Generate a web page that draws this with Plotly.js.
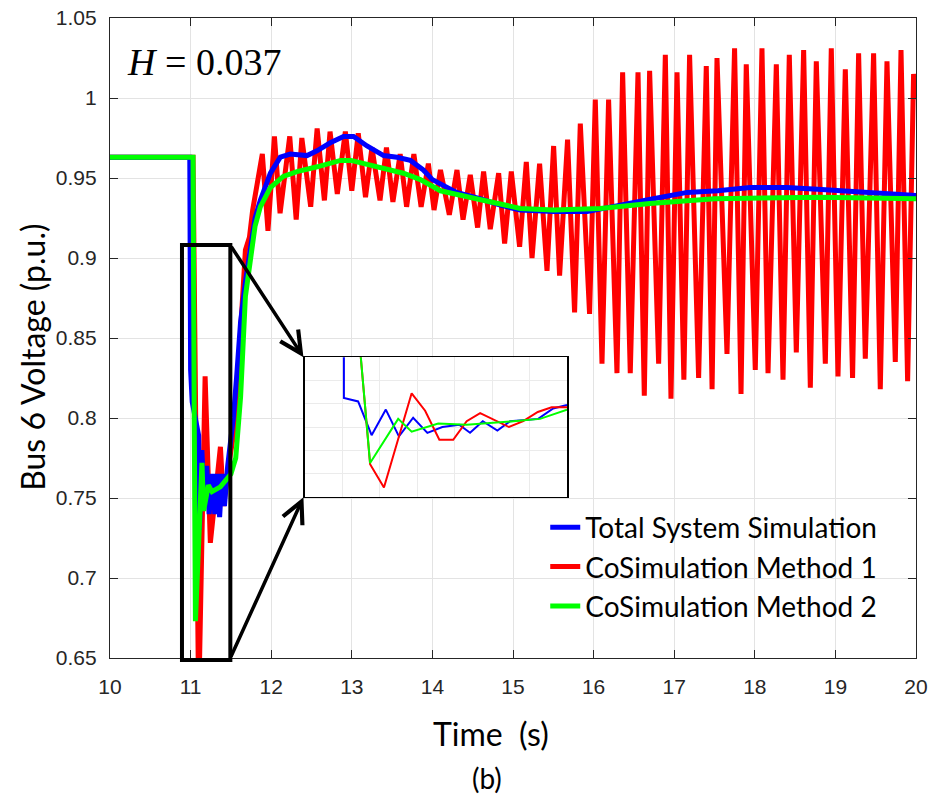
<!DOCTYPE html>
<html>
<head>
<meta charset="utf-8">
<script src="https://cdn.plot.ly/plotly-3.0.1.min.js"></script>
<style>html,body{margin:0;padding:0;background:#fff;}#chart{width:934px;height:800px;}</style>
</head>
<body>
<div id="chart"></div>
<script>
// ---------- data ----------
const seriesNames = ["Total System Simulation", "CoSimulation Method 1", "CoSimulation Method 2"];

const totalTime = [10, 10.99, 11.0, 11.02, 11.1, 11.11, 11.14, 11.17, 11.2, 11.23, 11.27, 11.3, 11.33, 11.36, 11.39, 11.42, 11.46, 11.5, 11.53, 11.57, 11.62, 11.68, 11.74, 11.8, 11.865, 11.99, 12.113, 12.237, 12.444, 12.568, 12.733, 12.898, 13.022, 13.189, 13.395, 13.561, 13.726, 13.887, 14.0, 14.15, 14.3, 14.6, 14.842, 15.09, 15.5, 15.92, 16.2, 16.74, 17.16, 17.54, 17.94, 18.4, 18.78, 19.4, 20];
const totalVolt = [0.963, 0.963, 0.83, 0.81, 0.789, 0.73, 0.78, 0.745, 0.77, 0.74, 0.765, 0.74, 0.765, 0.738, 0.765, 0.745, 0.77, 0.785, 0.8, 0.825, 0.86, 0.885, 0.905, 0.925, 0.936, 0.953, 0.963, 0.965, 0.964, 0.967, 0.972, 0.976, 0.976, 0.97, 0.964, 0.963, 0.961, 0.955, 0.949, 0.945, 0.941, 0.937, 0.933, 0.93, 0.929, 0.929, 0.932, 0.937, 0.941, 0.942, 0.944, 0.944, 0.943, 0.941, 0.939];

const m1Time = [10, 11.03, 11.1, 11.18, 11.245, 11.37, 11.41, 11.47, 11.55, 11.63, 11.68, 11.73, 11.77, 11.89, 11.96, 12.04, 12.11, 12.23, 12.31, 12.38, 12.49, 12.57, 12.66, 12.73, 12.82, 12.92, 13.0, 13.08, 13.17, 13.25, 13.35, 13.43, 13.51, 13.6, 13.68, 13.77, 13.86, 13.95, 14.02, 14.1, 14.21, 14.305, 14.38, 14.47, 14.561, 14.635, 14.718, 14.822, 14.896, 14.979, 15.082, 15.165, 15.236, 15.33, 15.422, 15.504, 15.578, 15.677, 15.764, 15.835, 15.95, 16.021, 16.104, 16.186, 16.29, 16.36, 16.455, 16.551, 16.629, 16.695, 16.807, 16.89, 16.96, 17.035, 17.12, 17.191, 17.303, 17.398, 17.47, 17.531, 17.655, 17.749, 17.829, 17.894, 18.006, 18.089, 18.164, 18.267, 18.35, 18.428, 18.515, 18.606, 18.689, 18.763, 18.875, 18.949, 19.032, 19.123, 19.213, 19.288, 19.371, 19.474, 19.557, 19.64, 19.743, 19.814, 19.896, 19.97, 20.0];
const m1Volt = [0.963, 0.963, 0.62, 0.826, 0.722, 0.782, 0.745, 0.77, 0.795, 0.86, 0.905, 0.913, 0.93, 0.965, 0.917, 0.976, 0.928, 0.976, 0.924, 0.975, 0.932, 0.981, 0.936, 0.979, 0.94, 0.979, 0.942, 0.978, 0.938, 0.969, 0.936, 0.969, 0.935, 0.965, 0.932, 0.965, 0.932, 0.959, 0.93, 0.955, 0.927, 0.955, 0.924, 0.952, 0.919, 0.954, 0.918, 0.953, 0.909, 0.954, 0.907, 0.96, 0.9, 0.959, 0.892, 0.97, 0.889, 0.974, 0.866, 0.984, 0.865, 0.999, 0.834, 0.999, 0.828, 1.016, 0.828, 1.016, 0.814, 1.017, 0.834, 1.027, 0.812, 1.016, 0.824, 1.027, 0.825, 1.02, 0.818, 1.025, 0.84, 1.031, 0.815, 1.021, 0.83, 1.031, 0.828, 1.021, 0.824, 1.027, 0.841, 1.03, 0.819, 1.023, 0.834, 1.031, 0.826, 1.018, 0.825, 1.028, 0.837, 1.028, 0.818, 1.023, 0.835, 1.03, 0.823, 1.015, 0.999];

const m2Time = [10, 11.03, 11.045, 11.06, 11.141, 11.161, 11.22, 11.265, 11.369, 11.468, 11.5, 11.56, 11.62, 11.68, 11.74, 11.8, 11.865, 11.99, 12.15, 12.32, 12.57, 12.86, 12.99, 13.15, 13.39, 13.64, 13.85, 13.97, 14.1, 14.46, 14.84, 15.09, 15.5, 16.08, 16.7, 17.5, 18.8, 20];
const m2Volt = [0.963, 0.963, 0.8, 0.673, 0.772, 0.742, 0.758, 0.754, 0.757, 0.763, 0.765, 0.775, 0.813, 0.876, 0.901, 0.92, 0.932, 0.944, 0.951, 0.954, 0.957, 0.961, 0.961, 0.959, 0.956, 0.953, 0.949, 0.946, 0.942, 0.938, 0.934, 0.931, 0.93, 0.931, 0.934, 0.937, 0.938, 0.937];

// inset (zoomed view of the fault interval)
const insetTotalTime = [11.104, 11.104, 11.142, 11.178, 11.216, 11.251, 11.289, 11.327, 11.367, 11.412, 11.441, 11.475, 11.514, 11.548, 11.623, 11.663, 11.7];
const insetTotalVolt = [0.85, 0.785, 0.782, 0.753, 0.775, 0.752, 0.768, 0.755, 0.76, 0.762, 0.755, 0.765, 0.757, 0.765, 0.767, 0.776, 0.779];
const insetM1Time = [11.141, 11.174, 11.211, 11.248, 11.285, 11.321, 11.359, 11.396, 11.432, 11.468, 11.512, 11.545, 11.583, 11.622, 11.659, 11.7];
const insetM1Volt = [0.85, 0.728, 0.708, 0.749, 0.789, 0.774, 0.749, 0.749, 0.765, 0.772, 0.765, 0.76, 0.765, 0.773, 0.777, 0.777];
const insetM2Time = [11.141, 11.174, 11.249, 11.285, 11.356, 11.432, 11.557, 11.628, 11.7];
const insetM2Volt = [0.85, 0.729, 0.767, 0.756, 0.763, 0.762, 0.765, 0.767, 0.775];

const xTickVals = [10, 11, 12, 13, 14, 15, 16, 17, 18, 19, 20];
const xTickText = ["10", "11", "12", "13", "14", "15", "16", "17", "18", "19", "20"];
const yTickVals = [0.65, 0.7, 0.75, 0.8, 0.85, 0.9, 0.95, 1, 1.05];
const yTickText = ["0.65", "0.7", "0.75", "0.8", "0.85", "0.9", "0.95", "1", "1.05"];

const xTitle = "Time\u00a0\u00a0(s)";
const yTitle = "Bus 6 Voltage (p.u.)";
const caption = "(b)";
const inertiaLabel = "<i>H</i> = 0.037";

// ---------- chart ----------
const BLUE = "#0000ff", RED = "#ff0000", GREEN = "#00ff00";
const LW = 5;

const traces = [
  {x: m1Time, y: m1Volt, name: seriesNames[1], type: "scatter", mode: "lines",
   line: {color: RED, width: LW}, legendrank: 2, legendgroup: "b"},
  {x: totalTime, y: totalVolt, name: seriesNames[0], type: "scatter", mode: "lines",
   line: {color: BLUE, width: LW}, legendrank: 1, legendgroup: "a"},
  {x: m2Time, y: m2Volt, name: seriesNames[2], type: "scatter", mode: "lines",
   line: {color: GREEN, width: LW}, legendrank: 3, legendgroup: "c"},
  {x: insetTotalTime, y: insetTotalVolt, xaxis: "x2", yaxis: "y2", type: "scatter", mode: "lines",
   line: {color: BLUE, width: 2}, showlegend: false},
  {x: insetM1Time, y: insetM1Volt, xaxis: "x2", yaxis: "y2", type: "scatter", mode: "lines",
   line: {color: RED, width: 2}, showlegend: false},
  {x: insetM2Time, y: insetM2Volt, xaxis: "x2", yaxis: "y2", type: "scatter", mode: "lines",
   line: {color: GREEN, width: 2}, showlegend: false}
];

const tickFont = {family: "Liberation Sans, Arial, sans-serif", size: 21, color: "#262626"};

const layout = {
  width: 934, height: 800,
  margin: {l: 110, r: 18, t: 18, b: 142},
  paper_bgcolor: "#fff", plot_bgcolor: "#fff",
  showlegend: true,
  legend: {x: 0.54, y: 0.243, xanchor: "left", yanchor: "top",
           bgcolor: "rgba(0,0,0,0)", borderwidth: 0,
           traceorder: "grouped", tracegroupgap: 0,
           font: {family: "Lato, sans-serif", size: 28, color: "#000"}},
  xaxis: {range: [10, 20], tickvals: xTickVals, ticktext: xTickText,
          showgrid: true, gridcolor: "#e3e3e3", gridwidth: 1, zeroline: false,
          showline: true, linecolor: "#262626", linewidth: 1.2, mirror: "ticks",
          ticks: "inside", ticklen: 8, tickcolor: "#262626", tickfont: tickFont,
          ticklabelstandoff: 10},
  yaxis: {range: [0.65, 1.05], tickvals: yTickVals, ticktext: yTickText,
          showgrid: true, gridcolor: "#e3e3e3", gridwidth: 1, zeroline: false,
          showline: true, linecolor: "#262626", linewidth: 1.2, mirror: "ticks",
          ticks: "inside", ticklen: 8, tickcolor: "#262626", tickfont: tickFont,
          ticklabelstandoff: 8},
  xaxis2: {domain: [0.2419, 0.567], anchor: "y2", range: [11.0, 11.7], dtick: 0.1, tick0: 11,
           showticklabels: false, showgrid: true, gridcolor: "#ebebeb", zeroline: false,
           showline: true, linecolor: "#000", linewidth: 1.5, mirror: true, ticks: ""},
  yaxis2: {domain: [0.252, 0.4698], anchor: "x2", range: [0.70, 0.82], dtick: 0.02, tick0: 0.7,
           showticklabels: false, showgrid: true, gridcolor: "#ebebeb", zeroline: false,
           showline: true, linecolor: "#000", linewidth: 1.5, mirror: true, ticks: ""},
  shapes: [
    {type: "rect", xref: "x", yref: "paper", x0: 10.893, x1: 11.493, y0: -0.003, y1: 0.6453,
     line: {color: "#000", width: 4}, fillcolor: "rgba(0,0,0,0)", layer: "above"}
  ],
  annotations: [
    {xref: "paper", yref: "paper", x: 0.0186, y: 0.931, xanchor: "left", yanchor: "middle",
     text: inertiaLabel, showarrow: false,
     font: {family: "Liberation Serif, Times New Roman, serif", size: 38, color: "#000"}},
    {xref: "paper", yref: "paper", x: 0.4728, y: -0.1172, xanchor: "center", yanchor: "middle",
     text: xTitle, showarrow: false, font: {family: "Lato, sans-serif", size: 32, color: "#000"}},
    {xref: "paper", yref: "paper", x: -0.096, y: 0.470, xanchor: "center", yanchor: "middle",
     text: yTitle, textangle: -90, showarrow: false, font: {family: "Lato, sans-serif", size: 32, color: "#000"}},
    {xref: "paper", yref: "paper", x: 0.4677, y: -0.1875, xanchor: "center", yanchor: "middle",
     text: caption, showarrow: false, font: {family: "Lato, sans-serif", size: 28, color: "#000"}},
    {xref: "x", yref: "y", x: 12.40, y: 0.838, axref: "x", ayref: "y", ax: 11.493, ay: 0.908,
     text: "", showarrow: true, arrowhead: 5, arrowsize: 1.2, arrowwidth: 3.5, arrowcolor: "#000"},
    {xref: "x", yref: "y", x: 12.40, y: 0.7505, axref: "x", ayref: "y", ax: 11.493, ay: 0.65,
     text: "", showarrow: true, arrowhead: 5, arrowsize: 1.2, arrowwidth: 3.5, arrowcolor: "#000"}
  ]
};

Plotly.newPlot("chart", traces, layout, {displayModeBar: false, staticPlot: true});
</script>
</body>
</html>
